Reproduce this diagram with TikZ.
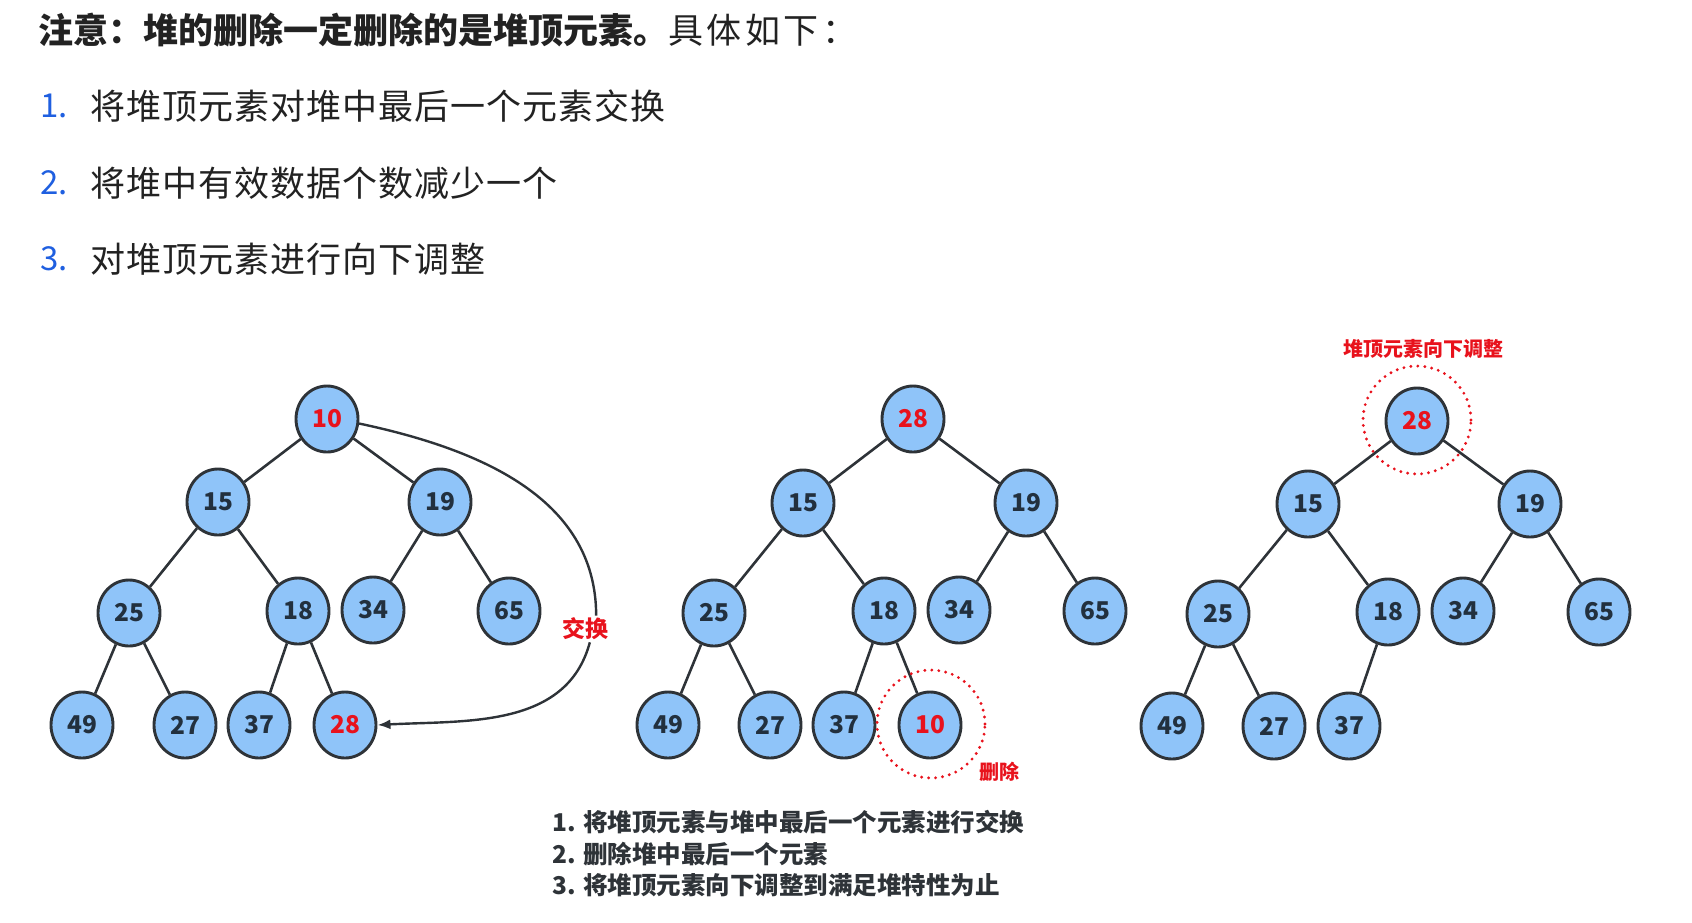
\documentclass[tikz,border=0pt]{standalone}
\usepackage{fontspec}
\setmainfont{Noto Sans CJK SC}
\usetikzlibrary{shapes.geometric,arrows.meta}
\definecolor{nodefill}{HTML}{8FC4F9}
\definecolor{edgecol}{HTML}{2E3338}
\definecolor{numcol}{HTML}{22303E}
\definecolor{hred}{HTML}{E8121C}
\definecolor{listblue}{HTML}{1F5FE0}
\definecolor{txtcol}{HTML}{222222}
\tikzset{
  hnode/.style={ellipse, draw=edgecol, line width=2.9pt, fill=nodefill,
    minimum width=62pt, minimum height=66pt, inner sep=0pt,
    font=\fontsize{24.5}{26}\selectfont\bfseries, text=numcol},
  hot/.style={text=hred},
  tedge/.style={draw=edgecol, line width=2.6pt},
  dotring/.style={circle, draw=hred, line width=3.2pt, line cap=round,
    dash pattern=on 0pt off 7pt, minimum size=108pt, inner sep=0pt},
  redlab/.style={text=hred, font=\fontsize{20}{22}\selectfont\bfseries, inner sep=1pt},
  listnum/.style={anchor=west, inner sep=0pt, text=listblue, font=\fontsize{33}{38}\selectfont},
  listtxt/.style={anchor=west, inner sep=0pt, text=txtcol, font=\fontsize{35}{40}\selectfont\addfontfeatures{LetterSpace=3}},
  bottxt/.style={anchor=west, inner sep=0pt, text=edgecol, font=\fontsize{24.5}{28}\selectfont\bfseries}
}
\begin{document}
\begin{tikzpicture}[x=1pt,y=-1pt]
\useasboundingbox (0,0) rectangle (1692,922);
% heading and list
\node[anchor=west, inner sep=0pt, text=txtcol, font=\fontsize{35}{40}\selectfont] (head) at (38,30)
  {{\bfseries 注意：堆的删除一定删除的是堆顶元素。}{\addfontfeatures{LetterSpace=10}具体如下：}};
\node[listnum] (n1) at (40,106) {1.};
\node[listtxt] (l1) at (90,106) {将堆顶元素对堆中最后一个元素交换};
\node[listnum] (n2) at (40,183) {2.};
\node[listtxt] (l2) at (90,183) {将堆中有效数据个数减少一个};
\node[listnum] (n3) at (40,259) {3.};
\node[listtxt] (l3) at (90,259) {对堆顶元素进行向下调整};

% tree 1
\node[hnode,hot] (a10) at (327,419) {10};
\node[hnode] (a15) at (218,502) {15};
\node[hnode] (a19) at (440,502) {19};
\node[hnode] (a25) at (129,613) {25};
\node[hnode] (a18) at (298,611) {18};
\node[hnode] (a34) at (373,610) {34};
\node[hnode] (a65) at (509,611) {65};
\node[hnode] (a49) at (82,725) {49};
\node[hnode] (a27) at (185,725) {27};
\node[hnode] (a37) at (259,725) {37};
\node[hnode,hot] (a28) at (345,725) {28};
\draw[tedge] (a10)--(a15) (a10)--(a19) (a15)--(a25) (a15)--(a18)
  (a19)--(a34) (a19)--(a65) (a25)--(a49) (a25)--(a27) (a18)--(a37) (a18)--(a28);
\node[text=hred, font=\fontsize{23}{25}\selectfont\bfseries, inner sep=2pt] (swap) at (585,629) {交换};
\draw[tedge, line width=2.4pt] (a10.-8) to[out=-12, in=90] (swap.50);
\draw[tedge, line width=2.4pt, -{Latex[length=13pt,width=10pt]}] (swap.-70) to[out=-105, in=3] (a28.east);

% tree 2
\node[hnode,hot] (b28) at (913,419) {28};
\node[hnode] (b15) at (803,503) {15};
\node[hnode] (b19) at (1026,503) {19};
\node[hnode] (b25) at (714,613) {25};
\node[hnode] (b18) at (884,611) {18};
\node[hnode] (b34) at (959,610) {34};
\node[hnode] (b65) at (1095,611) {65};
\node[hnode] (b49) at (668,725) {49};
\node[hnode] (b27) at (770,725) {27};
\node[hnode] (b37) at (844,725) {37};
\node[hnode,hot] (b10) at (930,725) {10};
\draw[tedge] (b28)--(b15) (b28)--(b19) (b15)--(b25) (b15)--(b18)
  (b19)--(b34) (b19)--(b65) (b25)--(b49) (b25)--(b27) (b18)--(b37) (b18)--(b10);
\node[dotring] (ringb) at (931,724) {};
\node[redlab] (del) at (999,772) {删除};

% tree 3
\node[hnode,hot] (c28) at (1417,421) {28};
\node[hnode] (c15) at (1308,504) {15};
\node[hnode] (c19) at (1530,504) {19};
\node[hnode] (c25) at (1218,614) {25};
\node[hnode] (c18) at (1388,612) {18};
\node[hnode] (c34) at (1463,611) {34};
\node[hnode] (c65) at (1599,612) {65};
\node[hnode] (c49) at (1172,726) {49};
\node[hnode] (c27) at (1274,726) {27};
\node[hnode] (c37) at (1349,726) {37};
\draw[tedge] (c28)--(c15) (c28)--(c19) (c15)--(c25) (c15)--(c18)
  (c19)--(c34) (c19)--(c65) (c25)--(c49) (c25)--(c27) (c18)--(c37);
\node[dotring] (ringc) at (1417,420) {};
\node[redlab] (adj) at (1423,349) {堆顶元素向下调整};

% bottom notes
\node[bottxt] (s1) at (552,822) {1. 将堆顶元素与堆中最后一个元素进行交换};
\node[bottxt] (s2) at (552,854) {2. 删除堆中最后一个元素};
\node[bottxt] (s3) at (552,885) {3. 将堆顶元素向下调整到满足堆特性为止};
\end{tikzpicture}
\end{document}
